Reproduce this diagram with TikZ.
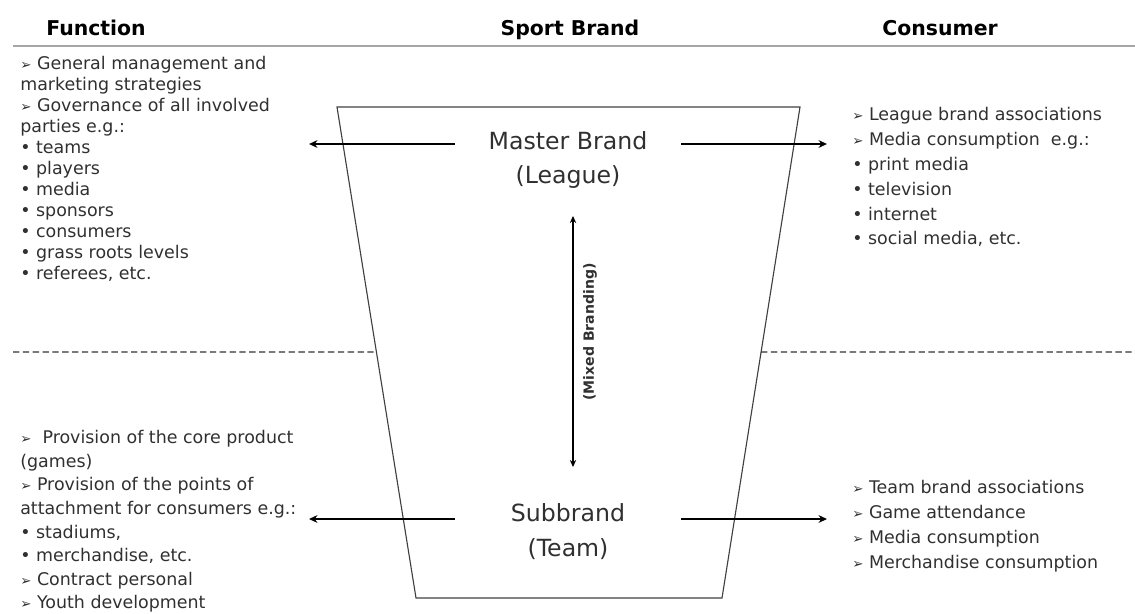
\documentclass[tikz,border=0pt]{standalone}
\usepackage{fontspec}
\setmainfont{DejaVu Sans}
\usepackage{tikz}
\usetikzlibrary{arrows.meta,positioning,calc}
\definecolor{txt}{HTML}{303030}
\newcommand\mkarr{{\fontsize{9.5}{9.5}\selectfont ➢}}
\tikzset{k/.style={draw, line width=1.6pt, -{Stealth[length=6pt,width=5.5pt]}}}
\tikzset{k2/.style={draw, line width=1.3pt,
  {Stealth[length=5pt,width=4.5pt]}-{Stealth[length=5pt,width=4.5pt]}}}
\tikzset{trap/.style={draw, black!75, line width=.8pt}}
\tikzset{dsh/.style={draw, black!80, line width=.75pt, dash pattern=on 4.5pt off 2.5pt}}
\tikzset{hd/.style={anchor=base, font=\fontsize{14.5}{17}\selectfont\bfseries}}
\tikzset{br/.style={align=center, text=txt, minimum width=5.65cm,
  font=\fontsize{16.8}{24.8}\selectfont}}
\tikzset{lst/.style={align=left, text=txt, inner sep=0pt, anchor=north west}}

\begin{document}
\begin{tikzpicture}[x=.025cm,y=-.025cm]
        \useasboundingbox (0,0) rectangle (1135,613);
        %% headers
        \node (fn) at (96,35) [hd] {Function};
        \node (sb) at (570,35) [hd] {Sport Brand};
        \node (cs) at (940,35) [hd] {Consumer};
        \draw [gray!70, line width=1.4pt] (13,46) -- (1135,46);
        %% brand cup
        \coordinate (t1) at (337,107);
        \coordinate (t2) at (800,107);
        \coordinate (t3) at (722,598);
        \coordinate (t4) at (416,598);
        \draw [trap] (t1) -- (t2) -- (t3) -- (t4) -- cycle;
        \draw [dsh] (13,352) -- ($(t1)!.499!(t4)$);
        \draw [dsh] ($(t2)!.499!(t3)$) -- (1135,352);
        \node (master) at (568,160) [br] {Master Brand\\(League)};
        \node (sub) at (568,531.5) [br] {Subbrand\\(Team)};
        \coordinate (mx1) at (573,216);
        \coordinate (mx2) at (573,467);
        \draw [k2] (mx1) -- (mx2);
        \node (mix) at (590,332) [rotate=90, text=txt,
          font=\fontsize{10}{12}\selectfont\bfseries] {(Mixed Branding)};
        %% arrows out
        \coordinate (lt) at (309,144);
        \coordinate (rt) at (827,144);
        \coordinate (lb) at (309,519);
        \coordinate (rb) at (827,519);
        \draw [k] (master.west |- lt) -- (lt);
        \draw [k] (master.east |- rt) -- (rt);
        \draw [k] (sub.west |- lb) -- (lb);
        \draw [k] (sub.east |- rb) -- (rb);
        %% lists
        \node (fl) at (20,56) [lst, font=\fontsize{12.4}{14.9}\selectfont]
          {\mkarr\ General management and\\marketing strategies\\
           \mkarr\ Governance of all involved\\parties e.g.:\\
           • teams\\• players\\• media\\• sponsors\\• consumers\\
           • grass roots levels\\• referees, etc.};
        \node (cl) at (852,107) [lst, font=\fontsize{12.4}{17.7}\selectfont]
          {\mkarr\ League brand associations\\\mkarr\ Media consumption\ \ e.g.:\\
           • print media\\• television\\• internet\\• social media, etc.};
        \node (fb) at (20,430) [lst, font=\fontsize{12.4}{16.8}\selectfont]
          {\mkarr\ \ Provision of the core product\\(games)\\
           \mkarr\ Provision of the points of\\attachment for consumers e.g.:\\
           • stadiums,\\• merchandise, etc.\\\mkarr\ Contract personal\\
           \mkarr\ Youth development};
        \node (cb) at (852,480) [lst, font=\fontsize{12.4}{17.7}\selectfont]
          {\mkarr\ Team brand associations\\\mkarr\ Game attendance\\
           \mkarr\ Media consumption\\\mkarr\ Merchandise consumption};
\end{tikzpicture}
\end{document}
